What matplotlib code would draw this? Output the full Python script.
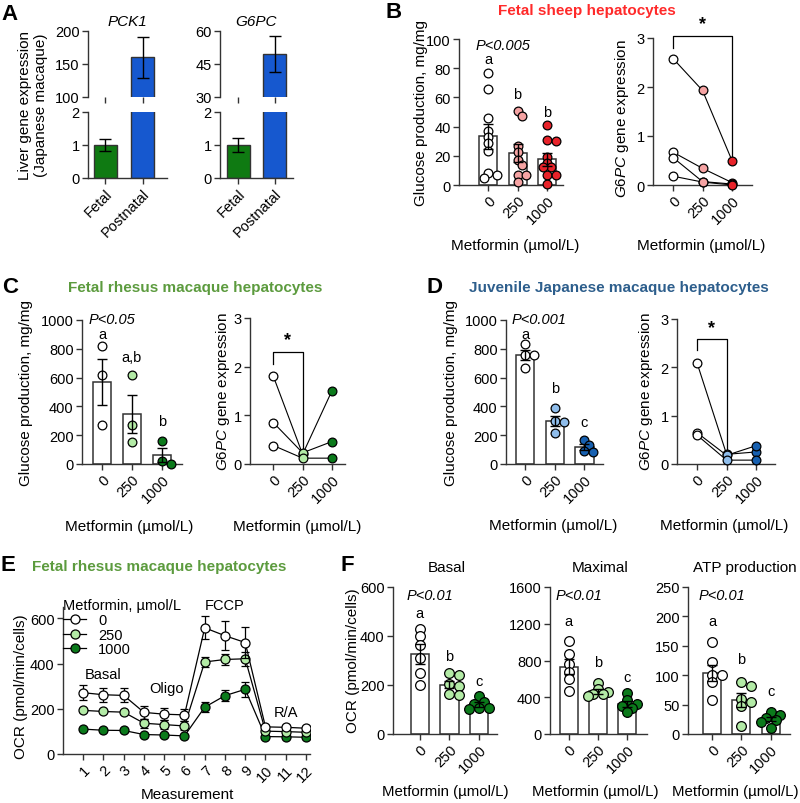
import numpy as np
import matplotlib
matplotlib.use('Agg')
import matplotlib.pyplot as plt
from matplotlib.lines import Line2D

plt.rcParams['font.family'] = ['Liberation Sans', 'DejaVu Sans']
plt.rcParams['mathtext.fontset'] = 'custom'
plt.rcParams['mathtext.it'] = 'Liberation Sans:italic'
plt.rcParams['mathtext.rm'] = 'Liberation Sans'

# ---- data ----
a_groups = ['Fetal', 'Postnatal']
a_pck1_mean = [1.0, 160]
a_pck1_sem = [0.17, 31]
a_g6pc_mean = [1.0, 49.5]
a_g6pc_sem = [0.2, 8]

doses = ['0', '250', '1000']

b_glc = [[77, 66, 46, 37, 33, 29, 23, 8, 7, 5],
         [51, 47.5, 26.5, 22.4, 17, 14, 7, 7, 2],
         [41, 31, 30, 19, 15, 12, 12, 7, 7, 1]]
b_glc_mean = [33.5, 22, 17.5]
b_glc_sem = [8.5, 6, 4.5]
b_g6pc = [[2.58, 1.93, 0.5], [0.67, 0.34, 0.05], [0.56, 0.07, 0.02], [0.18, 0.06, 0.0]]

c_glc = [[820, 620, 270], [615, 274, 151], [158, 23, 2]]
c_glc_mean = [570, 347, 61]
c_glc_sem = [160, 135, 48]
c_g6pc = [[1.8, 0.2, 1.5], [0.85, 0.23, 0.46], [0.38, 0.12, 0.12]]

d_glc = [[835, 760, 755, 665], [390, 300, 290, 215], [165, 135, 90, 80]]
d_glc_mean = [754, 299, 118]
d_glc_sem = [35, 36, 20]
d_g6pc = [[2.1, 0.2, 0.25], [0.65, 0.18, 0.38], [0.6, 0.08, 0.08]]

e_meas = list(range(1, 13))
e_0 = [271, 262, 259, 184, 176, 173, 558, 523, 493, 120, 118, 114]
e_0_err = [33, 32, 31, 28, 27, 27, 51, 63, 70, 10, 9, 9]
e_250 = [193, 188, 185, 136, 130, 124, 407, 418, 421, 101, 99, 96]
e_250_err = [8, 7, 7, 20, 20, 20, 22, 25, 30, 8, 7, 7]
e_1000 = [110, 105, 104, 86, 84, 80, 207, 258, 286, 77, 76, 74]
e_1000_err = [5, 5, 5, 5, 5, 5, 22, 25, 32, 5, 5, 5]

f_basal = [[427, 402, 364, 310, 250, 200], [250, 240, 205, 195, 165, 160], [154, 130, 123, 108, 108, 102]]
f_basal_mean = [326, 202, 121]
f_basal_sem = [42, 16, 9]
f_max = [[1010, 870, 760, 680, 600, 470], [560, 490, 455, 440, 430, 410], [445, 365, 330, 310, 280, 240]]
f_max_mean = [732, 464, 328]
f_max_sem = [79, 25, 30]
f_atp = [[156, 123, 101, 100, 88, 57], [88, 82, 60, 55, 48, 14], [37, 33, 28, 23, 20, 11]]
f_atp_mean = [104, 58, 25.5]
f_atp_sem = [14, 12, 3.5]

# colours
WHITE = 'white'
SHEEP = [WHITE, '#F5A3A3', '#E8232A']
RHESUS = [WHITE, '#B3EBA6', '#0B7A1B']
JAPAN = [WHITE, '#8FBDEB', '#1760B0']
EDGE = '#333333'
LAB = 11

W, H = 800, 804
fig = plt.figure(figsize=(W / 100, H / 100), dpi=100)


def box(l, t, r, b):
    return fig.add_axes([l / W, 1 - b / H, (r - l) / W, (b - t) / H])


def ft(x, y, s, **kw):
    kw.setdefault('ha', 'center')
    kw.setdefault('va', 'center')
    kw.setdefault('fontsize', LAB)
    fig.text(x / W, 1 - y / H, s, **kw)


def style(ax, bottom=True):
    for s in ['top', 'right']:
        ax.spines[s].set_visible(False)
    for s in ['left', 'bottom']:
        ax.spines[s].set_linewidth(1.0)
        ax.spines[s].set_color(EDGE)
    if not bottom:
        ax.spines['bottom'].set_visible(False)
        ax.tick_params(axis='x', length=0, labelbottom=False)
    ax.tick_params(length=4, width=1, color=EDGE, labelsize=10.5, pad=2)


def rot(ax):
    plt.setp(ax.get_xticklabels(), rotation=45, ha='right', rotation_mode='anchor')


def swarm(ax, xc, vals, diam):
    # simple beeswarm in pixel space, overlap allowed a bit (as in Prism)
    pts = ax.transData.transform(np.column_stack([np.full(len(vals), xc), vals]))
    placed = []
    out = pts.copy()
    for i in np.argsort(-pts[:, 1]):
        y = pts[i, 1]
        best, best_d = 0.0, -1
        for k in [0, 1, -1, 2, -2]:
            xp = pts[i, 0] + k * diam * 0.5
            d = min([np.hypot(xp - px, y - py) for px, py in placed] + [1e9])
            if d >= diam * 0.62:
                best = xp
                break
            if d > best_d:
                best, best_d = xp, d
        placed.append((best, y))
        out[i, 0] = best
    return ax.transData.inverted().transform(out)[:, 0]


def bar_panel(ax, pts, means, sems, colors, xlim, ylim, yticks, letters, letter_y, ptxt, ptxt_y, ms=6.3):
    x = np.arange(3)
    ax.set_xlim(*xlim)
    ax.set_ylim(*ylim)
    ax.set_yticks(yticks)
    ax.set_xticks(x)
    ax.set_xticklabels(doses)
    style(ax)
    rot(ax)
    ax.bar(x, means, width=0.62, color='white', edgecolor=EDGE, linewidth=1.1, zorder=1)
    diam = ms * 100 / 72
    for i in range(3):
        xs = swarm(ax, i, pts[i], diam)
        ax.scatter(xs, pts[i], s=ms ** 2, c=colors[i], edgecolors='black', linewidths=0.9,
                   zorder=3, clip_on=False)
    ax.errorbar(x, means, yerr=sems, fmt='none', ecolor='black', elinewidth=1,
                capsize=3.5, capthick=1, zorder=4)
    for i in range(3):
        ax.text(i, letter_y[i], letters[i], ha='center', va='center', fontsize=10.5)
    ax.text(-0.45, ptxt_y, ptxt, ha='left', va='center', fontsize=10.5, style='italic')


def paired_panel(ax, subj, colors, xlim, bracket, star_y, ms=6.3):
    ax.set_xlim(*xlim)
    ax.set_ylim(0, 3)
    ax.set_yticks([0, 1, 2, 3])
    ax.set_xticks([0, 1, 2])
    ax.set_xticklabels(doses)
    style(ax)
    rot(ax)
    for s in subj:
        ax.plot([0, 1, 2], s, color='black', lw=0.8, zorder=2)
        for i in range(3):
            ax.plot(i, s[i], 'o', ms=ms, mfc=colors[i], mec='black', mew=0.9, zorder=3, clip_on=False)
    x0, x1, yb, l0, l1 = bracket
    ax.plot([x0, x0, x1, x1], [l0, yb, yb, l1], color='black', lw=0.9, clip_on=False, zorder=1)
    ax.text((x0 + x1) / 2, star_y, '*', ha='center', va='center', fontsize=13, fontweight='bold')


# ---------------- Panel A ----------------
ft(10, 14, 'A', fontsize=16, fontweight='bold')
for (l, r, means, sems, top, ticks, name, xl) in [
        (88, 167, a_pck1_mean, a_pck1_sem, (100, 200), [100, 150, 200], 'PCK1', (-0.47, 1.66)),
        (220, 293, a_g6pc_mean, a_g6pc_sem, (30, 60), [30, 45, 60], 'G6PC', (-0.5, 1.5))]:
    up = box(l, 32, r, 98)
    lo = box(l, 113, r, 179)
    for ax in (up, lo):
        ax.bar([0, 1], means, width=0.62, color=['#0F7A12', '#1658CF'], edgecolor=EDGE, linewidth=1.0)
        ax.set_xlim(*xl)
    up.errorbar([1], [means[1]], yerr=[sems[1]], fmt='none', ecolor='black', elinewidth=1, capsize=4)
    lo.errorbar([0], [means[0]], yerr=[sems[0]], fmt='none', ecolor='black', elinewidth=1, capsize=4)
    up.set_ylim(*top)
    up.set_yticks(ticks)
    style(up, bottom=False)
    lo.set_ylim(0, 2)
    lo.set_yticks([0, 1, 2])
    lo.set_xticks([0, 1])
    lo.set_xticklabels(a_groups)
    style(lo)
    rot(lo)
    up.set_title(name, fontsize=11, style='italic', pad=4)
ft(33, 105, 'Liver gene expression\n(Japanese macaque)', rotation=90, linespacing=1.1)

# ---------------- Panel B ----------------
ft(394, 13, 'B', fontsize=16, fontweight='bold')
ft(587, 11, 'Fetal sheep hepatocytes', fontsize=11, fontweight='bold', color='#FF2A2A')
ax = box(459, 40, 563, 186)
bar_panel(ax, b_glc, b_glc_mean, b_glc_sem, SHEEP, (-1.0, 2.55), (0, 100), [0, 20, 40, 60, 80, 100],
          ['a', 'b', 'b'], [86, 62, 50], 'P<0.005', 96)
ft(421, 113, 'Glucose production, mg/mg', rotation=90)
ft(515, 246, 'Metformin (µmol/L)')
ax = box(653, 39, 752, 186)
paired_panel(ax, b_g6pc, SHEEP, (-0.68, 2.68), (0, 2, 3.04, 2.8, 0.6), 3.3)
ft(622, 119, r'$\it{G6PC}$ gene expression', rotation=90)
ft(701, 246, 'Metformin (µmol/L)')

# ---------------- Panel C ----------------
ft(10, 288, 'C', fontsize=16, fontweight='bold')
ft(195, 288, 'Fetal rhesus macaque hepatocytes', fontsize=11, fontweight='bold', color='#5C9B3E')
ax = box(82, 321, 182, 465)
bar_panel(ax, c_glc, c_glc_mean, c_glc_sem, RHESUS, (-0.67, 2.67), (0, 1000), [0, 200, 400, 600, 800, 1000],
          ['a', 'a,b', 'b'], [900, 745, 300], 'P<0.05', 1005)
ft(26, 393, 'Glucose production, mg/mg', rotation=90)
ft(129, 527, 'Metformin (µmol/L)')
ax = box(250, 319, 345, 465)
paired_panel(ax, c_g6pc, RHESUS, (-0.8, 2.45), (0, 1, 2.3, 2.05, 0.3), 2.55)
ft(223, 392, r'$\it{G6PC}$ gene expression', rotation=90)
ft(297, 527, 'Metformin (µmol/L)')

# ---------------- Panel D ----------------
ft(434, 288, 'D', fontsize=16, fontweight='bold')
ft(619, 288, 'Juvenile Japanese macaque hepatocytes', fontsize=11, fontweight='bold', color='#2D5E8C')
ax = box(506, 321, 603, 465)
bar_panel(ax, d_glc, d_glc_mean, d_glc_sem, JAPAN, (-0.65, 2.63), (0, 1000), [0, 200, 400, 600, 800, 1000],
          ['a', 'b', 'c'], [905, 525, 295], 'P<0.001', 1005)
ft(451, 393, 'Glucose production, mg/mg', rotation=90)
ft(553, 526, 'Metformin (µmol/L)')
ax = box(677, 320, 775, 465)
paired_panel(ax, d_g6pc, JAPAN, (-0.67, 2.63), (0, 1, 2.58, 2.35, 0.3), 2.82)
ft(646, 392, r'$\it{G6PC}$ gene expression', rotation=90)
ft(724, 526, 'Metformin (µmol/L)')

# ---------------- Panel E ----------------
ft(8, 566, 'E', fontsize=16, fontweight='bold')
ft(159, 567, 'Fetal rhesus macaque hepatocytes', fontsize=11, fontweight='bold', color='#5C9B3E')
ax = box(63, 608, 310, 755)
ax.set_xlim(0, 12.2)
ax.set_ylim(0, 650)
ax.set_yticks([0, 200, 400, 600])
ax.set_xticks(e_meas)
style(ax)
rot(ax)
for ys, err, col, z in [(e_1000, e_1000_err, RHESUS[2], 3), (e_250, e_250_err, RHESUS[1], 4),
                        (e_0, e_0_err, WHITE, 5)]:
    ax.errorbar(e_meas, ys, yerr=err, fmt='o-', color='black', lw=0.9, ms=6.5, mfc=col, mec='black',
                mew=0.9, ecolor='black', elinewidth=0.9, capsize=3, capthick=0.9, zorder=z)
for s, x, y in [('Basal', 2.0, 355), ('Oligo', 5.1, 293), ('FCCP', 8.0, 660), ('R/A', 11.0, 187)]:
    ax.text(x, y, s, ha='center', va='center', fontsize=10.5)
handles = [Line2D([], [], color='black', lw=0.9, marker='o', ms=6.5, mfc=c, mec='black', mew=0.9)
           for c in RHESUS]
leg = ax.legend(handles, doses, title='Metformin, µmol/L', loc='upper left', bbox_to_anchor=(0.0, 1.06),
                frameon=False, fontsize=10.5, title_fontsize=10.5, handlelength=1.6, handletextpad=0.8,
                labelspacing=0.05, borderaxespad=0, borderpad=0, alignment='left')
ft(21, 687, 'OCR (pmol/min/cells)', rotation=90)
ft(187, 795, 'Measurement')

# ---------------- Panel F ----------------
ft(347, 566, 'F', fontsize=16, fontweight='bold')
f_specs = [
    (393, 497, f_basal, f_basal_mean, f_basal_sem, (-0.9, 2.6), (0, 600), [0, 200, 400, 600],
     [494, 320, 218], 566, 'Basal', 447, 445),
    (550, 647, f_max, f_max_mean, f_max_sem, (-0.65, 2.69), (0, 1600), [0, 400, 800, 1200, 1600],
     [1229, 789, 625], 1510, 'Maximal', 600, 595),
    (688, 790, f_atp, f_atp_mean, f_atp_sem, (-0.82, 2.66), (0, 250), [0, 50, 100, 150, 200, 250],
     [193, 127, 73], 236, 'ATP production', 745, 735),
]
for (l, r, pts, m, s, xl, yl, yt, ly, py, title, tx, lx) in f_specs:
    ax = box(l, 588, r, 735)
    bar_panel(ax, pts, m, s, RHESUS, xl, yl, yt, ['a', 'b', 'c'], ly, 'P<0.01', py, ms=7)
    ft(tx, 568, title)
    ft(lx, 792, 'Metformin (µmol/L)', fontsize=10.8)
ft(353, 661, 'OCR (pmol/min/cells)', rotation=90)

fig.savefig('out.png', dpi=100)
